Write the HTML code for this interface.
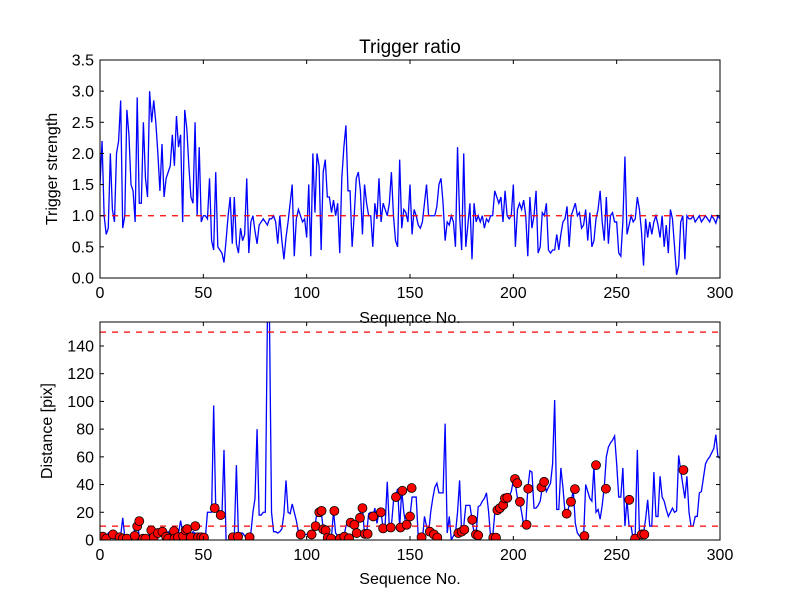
<!DOCTYPE html>
<html><head><meta charset="utf-8"><style>
html,body{margin:0;padding:0;background:#fff}
svg{display:block;font-family:"Liberation Sans","DejaVu Sans",sans-serif}
</style></head><body>
<svg id="chart" width="800" height="600" viewBox="0 0 800 600">
<rect width="800" height="600" fill="#fff"/>
</svg>
<script>
const seqTicks=[0,50,100,150,200,250,300];
const strengthTicks=[0.0,0.5,1.0,1.5,2.0,2.5,3.0,3.5];
const distTicks=[0,20,40,60,80,100,120,140];
const strengthThreshold=[1.0];
const distThresholds=[10,150];
const strength=[1.5,2.2,1.0,0.7,0.8,2.0,1.1,0.9,2.0,2.2,2.85,
0.8,1.0,2.7,2.3,1.5,1.4,0.9,2.9,1.2,1.2,
2.5,1.6,1.3,3.0,2.5,2.85,2.5,2.0,1.4,2.15,
1.3,1.6,1.7,1.8,2.3,1.8,2.6,2.1,2.3,0.9,
2.7,2.4,1.8,1.3,1.2,2.5,1.0,2.1,0.9,1.0,
1.0,0.95,1.6,0.6,0.45,1.7,0.5,0.45,0.4,0.25,
0.6,1.0,1.3,0.55,1.3,0.55,0.4,0.8,0.6,0.7,
1.6,0.4,0.9,1.0,0.75,0.55,0.85,0.9,0.95,0.9,
0.85,0.95,0.95,1.0,0.9,0.55,1.0,0.6,0.3,0.65,
0.9,1.2,1.5,0.35,0.95,1.1,1.0,0.9,0.95,0.65,
1.5,0.35,2.0,1.05,2.0,1.8,0.45,1.7,1.9,1.3,
1.3,1.05,1.25,1.0,1.2,0.4,1.6,2.1,2.45,1.4,
1.4,0.5,1.0,1.6,1.7,1.4,0.7,1.5,1.2,1.0,
1.0,0.5,1.2,0.95,1.6,0.9,1.2,1.1,1.0,1.2,
1.7,1.0,0.6,0.5,1.9,0.8,1.1,1.05,0.9,1.5,
0.7,1.1,1.0,0.85,0.8,0.9,1.2,1.5,1.0,1.0,
1.0,1.0,1.15,1.5,1.6,1.2,0.6,0.9,0.85,1.0,
0.9,0.5,2.1,1.0,0.45,2.0,0.5,0.85,1.2,0.3,
1.2,0.9,1.0,0.9,1.0,0.8,0.95,0.9,1.0,1.0,
1.4,1.3,1.2,1.3,0.9,1.4,1.0,0.95,1.0,1.5,
0.5,1.1,1.2,1.1,1.25,1.0,0.35,1.3,0.8,1.0,
1.4,0.4,0.5,1.05,1.0,1.2,0.45,0.4,0.45,0.45,
0.7,0.45,0.7,0.9,0.95,1.15,0.5,1.0,1.1,1.2,
1.0,1.05,0.8,0.85,1.1,0.6,1.05,0.5,0.6,0.95,
1.1,1.4,0.9,0.6,1.3,0.55,1.0,1.05,0.9,0.9,
0.4,0.35,0.9,1.95,0.7,0.85,1.0,0.9,0.95,1.3,
1.1,0.75,0.2,0.95,0.65,0.9,0.7,0.9,1.0,0.85,
0.65,1.0,0.5,0.85,0.4,1.1,0.95,0.5,0.05,0.2,
0.9,1.0,0.3,1.0,0.95,0.95,1.0,0.9,0.95,1.0,
0.9,0.95,1.0,0.95,0.9,1.0,0.95,0.88,1.0,0.95];
const distance=[3,2,1,2,5,3,2,1,2,4,3,
16,2,1,1,3,2,10,12,3,2,
1,2,3,4,6,3,2,5,4,3,
2,3,6,4,3,2,8,5,14,6,
8,10,4,3,6,5,2,2,1,1,
2,20,20,20,97,23,25,18,18,65,
0,0,0,0,3,54,2,5,5,3,
2,2,5,20,30,80,18,18,20,20,160,160,
20,6,6,5,6,8,19,43,20,19,26,20,14,6,4,4,4,4,
4,4,5,10,20,22,21,8,7,2,
1,2,21,5,3,1,2,2,10,14,
12,11,11,5,16,20,23,4,5,19,
20,17,23,12,20,20,8,12,42,9,
10,28,31,37,9,36,20,11,15,17,
31,31,31,2,0,0,17,10,5,20,
30,38,41,34,34,34,84,5,17,0,
3,5,20,43,5,10,25,25,25,15,
5,5,24,25,28,30,34,21,2,2,
19,22,23,25,30,30,31,32,35,43,
40,30,28,20,11,11,37,50,49,23,
23,25,28,38,42,35,38,41,55,101,
22,22,52,38,20,19,25,28,36,12,
5,3,2,2,40,35,30,28,53,20,
22,15,25,38,60,67,70,72,75,55,
31,31,52,10,29,10,10,0,5,65,
5,5,5,15,29,10,10,49,17,17,
46,31,28,22,17,20,23,20,21,61,
50,40,30,46,20,10,10,17,17,34,
35,45,55,58,60,63,66,76,60,59];
const markSeq=[1.4,3,6.3,9.5,11.1,13,16.8,18,19,20.8,22,24.8,26,28,30.2,32,33,35.8,36,37.7,40.2,41.4,42.2,44,46.1,47.4,49,50.3,55.5,58.4,64.3,66.8,72.4,
97.1,102.4,104.3,106.1,107.2,108,109.2,110.2,111.8,113.4,116.1,118.2,120.5,121.3,123.1,124.2,125.8,127,128.2,129.5,132.2,135.9,137,140.7,143.2,145.4,146.3,148.4,150,150.8,
155.6,159.6,161.6,163.2,173.4,175,176.3,180.1,181.9,183,190.3,191.6,192.3,193.5,195.1,195.9,197.1,200.8,201.9,203.2,206.4,207.2,213.6,214.9,
225.8,227.9,229.8,234.4,240,244.8,256.1,258.9,262.1,263.4,282.3];
const markDist=[2.4,1,4,2,1.1,1,3,9.9,13.6,1,1,7,2,5,6,2.4,1,6.4,1,2,2.9,7,7.9,2,10,2,2,1.7,23,18,2,2.4,2,
4,4,10,20,21,7.7,7,1.7,1,21,1,2.4,1.2,12.5,11,5,16,23,4.4,4.4,17,20,8.4,9,31,9,35.5,11,17,37.5,
2,6,4,1.8,5,6,7.5,14.6,4,3.4,1.7,1.7,21.5,23,25.3,30,30.5,44,41,27.6,11,37,38,42,
19,27.6,36.7,2.9,54,37,29,1,4,4,50.5];

const NS='http://www.w3.org/2000/svg';
const svg=document.getElementById('chart');
function mk(tag,attrs,parent){const e=document.createElementNS(NS,tag);for(const k in attrs)e.setAttribute(k,attrs[k]);(parent||svg).appendChild(e);return e;}
const L=100,R=720;
const xs=v=>L+(v-0)/(300-0)*(R-L);
const T1=60,B1=278,yTop=v=>B1-(v/3.5)*(B1-T1);
const T2=322,B2=540,DMAX=157.3,yBot=v=>B2-(v/DMAX)*(B2-T2);

// clip paths
const defs=mk('defs',{});
const c1=mk('clipPath',{id:'clip1'},defs);mk('rect',{x:L,y:T1,width:R-L,height:B1-T1},c1);
const c2=mk('clipPath',{id:'clip2'},defs);mk('rect',{x:L,y:T2,width:R-L,height:B2-T2},c2);

function axes(T,B,yTicks,yf,fmt,name){
  const g=mk('g',{});
  
  
  seqTicks.forEach(t=>{
    const x=xs(t);
    mk('line',{x1:x,y1:B,x2:x,y2:B-4,stroke:'#000','stroke-width':1},g);
    mk('line',{x1:x,y1:T,x2:x,y2:T+4,stroke:'#000','stroke-width':1},g);
    const tx=mk('text',{x:x,y:B+20,'text-anchor':'middle','font-size':16,fill:'#000'},g);
    tx.textContent=t;
    
    
  });
  yTicks.forEach(t=>{
    const y=yf(t);
    mk('line',{x1:L,y1:y,x2:L+4,y2:y,stroke:'#000','stroke-width':1},g);
    mk('line',{x1:R,y1:y,x2:R-4,y2:y,stroke:'#000','stroke-width':1},g);
    const tx=mk('text',{x:L-6,y:y+5.5,'text-anchor':'end','font-size':16,fill:'#000'},g);
    tx.textContent=fmt(t);
    
    
  });
  const fr=mk('rect',{x:L,y:T,width:R-L,height:B-T,fill:'none',stroke:'#000','stroke-width':1});
  
  
}

// top series
const g1=mk('g',{'clip-path':'url(#clip1)'});
const p1=mk('polyline',{points:strength.map((v,i)=>xs(i)+','+yTop(v)).join(' '),fill:'none',stroke:'#0000ff','stroke-width':1.3},g1);


strengthThreshold.forEach(v=>{
  const l=mk('line',{x1:L,x2:R,y1:yTop(v),y2:yTop(v),stroke:'#ff0000','stroke-width':1.3,'stroke-dasharray':'6,6'},g1);
  
  
});
axes(T1,B1,strengthTicks,yTop,t=>t.toFixed(1),'top');

// bottom series
const g2=mk('g',{'clip-path':'url(#clip2)'});
const p2=mk('polyline',{points:distance.map((v,i)=>xs(i)+','+yBot(v)).join(' '),fill:'none',stroke:'#0000ff','stroke-width':1.3},g2);


distThresholds.forEach(v=>{
  const l=mk('line',{x1:L,x2:R,y1:yBot(v),y2:yBot(v),stroke:'#ff0000','stroke-width':1.3,'stroke-dasharray':'6,6'},g2);
  
  
});
markSeq.forEach((s,i)=>{
  const c=mk('circle',{cx:xs(s),cy:yBot(markDist[i]),r:4.5,fill:'#ff0000',stroke:'#000','stroke-width':0.8},g2);
  
  
});
axes(T2,B2,distTicks,yBot,t=>String(t),'bottom');

function label(txt,x,y,size,name,rot){
  const t=mk('text',{x:x,y:y,'text-anchor':'middle','font-size':size,fill:'#000'});
  if(rot)t.setAttribute('transform','rotate(-90 '+x+' '+y+')');
  t.textContent=txt;
  
  
}
label('Trigger ratio',410,53,19,'top-chart-title');
label('Sequence No.',410,323,16,'top-x-axis-title');
label('Trigger strength',57,169,16,'top-y-axis-title',true);
label('Sequence No.',410,584,16,'bottom-x-axis-title');
label('Distance [pix]',52,431,16,'bottom-y-axis-title',true);
</script>
</body></html>
